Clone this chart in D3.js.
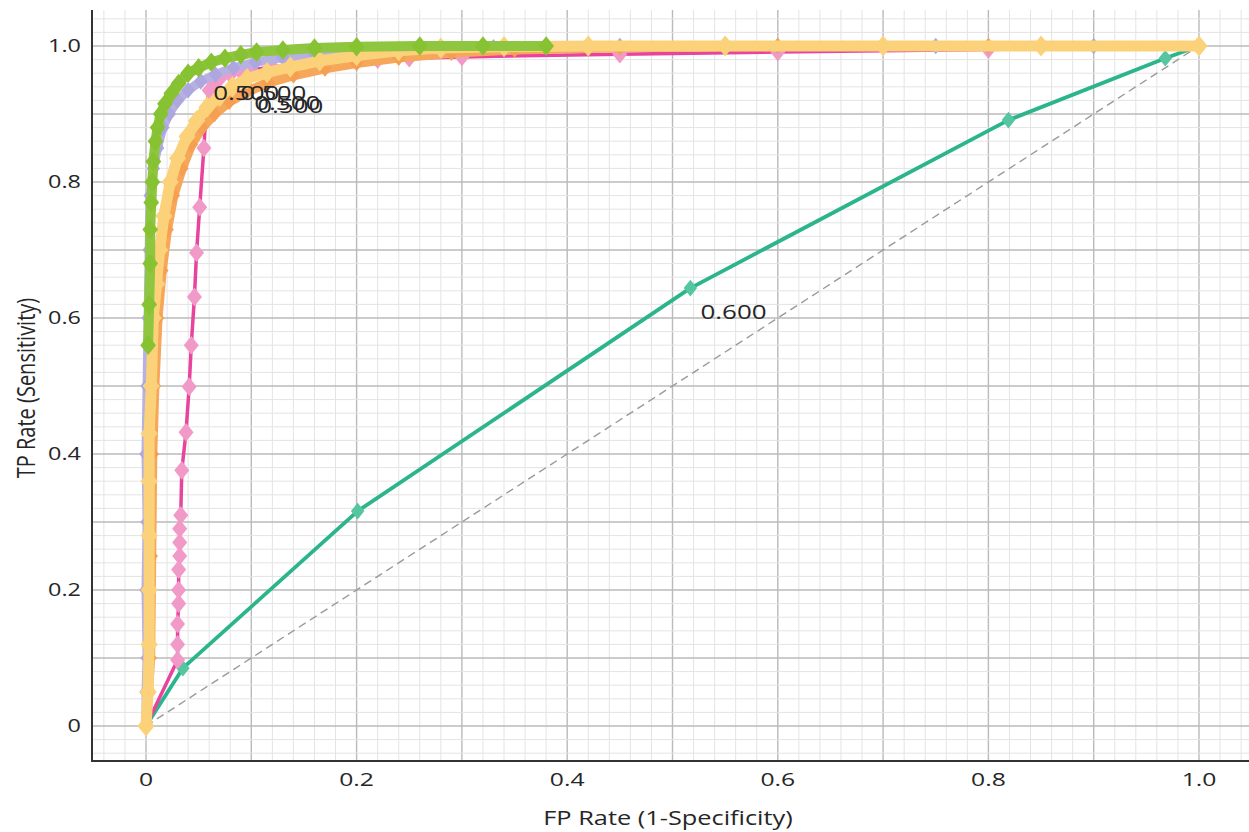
<!DOCTYPE html>
<html>
<head>
<meta charset="utf-8">
<script src="https://cdn.jsdelivr.net/npm/d3@7"></script>
<style>
  body { margin: 0; background: #fff; }
  svg { display: block; font-family: "Open Sans", "Noto Sans", sans-serif; }
</style>
</head>
<body>
<div id="chart"></div>
<script>
// ROC curves, values (fpr, tpr)
const tickValues = [0, 0.2, 0.4, 0.6, 0.8, 1.0];
const tickLabels = ["0", "0.2", "0.4", "0.6", "0.8", "1.0"];

const tealFpr = [0, 0.035, 0.201, 0.517, 0.819, 0.968, 1];
const tealTpr = [0, 0.085, 0.316, 0.644, 0.891, 0.982, 1];

const pinkFpr = [0, 0.03, 0.03, 0.03, 0.031, 0.031, 0.031, 0.032, 0.032, 0.032, 0.033, 0.034, 0.038, 0.041, 0.043, 0.046, 0.048, 0.051, 0.055, 0.057, 0.06, 0.065, 0.07, 0.08, 0.09, 0.1, 0.12, 0.14, 0.16, 0.18, 0.2, 0.22, 0.25, 0.3, 0.45, 0.6, 0.8, 1];
const pinkTpr = [0, 0.097, 0.12, 0.15, 0.18, 0.2, 0.23, 0.25, 0.27, 0.29, 0.31, 0.376, 0.432, 0.499, 0.56, 0.631, 0.696, 0.763, 0.85, 0.905, 0.935, 0.945, 0.952, 0.958, 0.962, 0.965, 0.969, 0.972, 0.975, 0.977, 0.979, 0.98, 0.982, 0.984, 0.988, 0.991, 0.995, 1];

const lavenderFpr = [0, 0.0, 0.001, 0.0, 0.001, 0.0, 0.001, 0.002, 0.003, 0.004, 0.007, 0.011, 0.016, 0.022, 0.03, 0.04, 0.052, 0.066, 0.083, 0.104, 0.13, 0.16, 0.2, 0.26, 0.33, 0.45, 0.6, 0.75, 0.9, 1];
const lavenderTpr = [0, 0.05, 0.1, 0.2, 0.3, 0.4, 0.5, 0.6, 0.7, 0.78, 0.82, 0.85, 0.88, 0.9, 0.92, 0.935, 0.948, 0.958, 0.968, 0.976, 0.983, 0.988, 0.993, 0.996, 0.998, 1, 1, 1, 1, 1];

const orangeFpr = [0, 0.004, 0.005, 0.006, 0.008, 0.011, 0.015, 0.02, 0.026, 0.034, 0.043, 0.053, 0.065, 0.079, 0.096, 0.116, 0.14, 0.17, 0.2, 0.24, 0.29, 0.35, 0.45, 0.6, 0.8, 1];
const orangeTpr = [0, 0.1, 0.25, 0.4, 0.5, 0.6, 0.67, 0.73, 0.78, 0.82, 0.855, 0.88, 0.9, 0.918, 0.933, 0.946, 0.957, 0.967, 0.975, 0.983, 0.99, 0.995, 0.998, 1, 1, 1];

const yellowFpr = [0, 0.002, 0.003, 0.003, 0.003, 0.003, 0.003, 0.005, 0.007, 0.01, 0.013, 0.017, 0.023, 0.03, 0.039, 0.048, 0.058, 0.07, 0.082, 0.096, 0.115, 0.137, 0.165, 0.2, 0.24, 0.28, 0.34, 0.42, 0.55, 0.7, 0.85, 1];
const yellowTpr = [0, 0.05, 0.12, 0.2, 0.28, 0.36, 0.43, 0.5, 0.6, 0.65, 0.7, 0.75, 0.8, 0.835, 0.867, 0.89, 0.91, 0.926, 0.94, 0.952, 0.961, 0.969, 0.978, 0.986, 0.993, 0.997, 0.999, 1, 1, 1, 1, 1];

const greenFpr = [0.002, 0.003, 0.004, 0.004, 0.005, 0.006, 0.007, 0.009, 0.011, 0.014, 0.018, 0.024, 0.031, 0.04, 0.05, 0.062, 0.075, 0.09, 0.105, 0.13, 0.16, 0.2, 0.26, 0.32, 0.38];
const greenTpr = [0.56, 0.62, 0.68, 0.73, 0.77, 0.8, 0.83, 0.86, 0.88, 0.9, 0.915, 0.93, 0.945, 0.96, 0.968, 0.976, 0.982, 0.987, 0.991, 0.994, 0.997, 0.999, 1, 1, 1];

// threshold labels
const labelFpr = [0.06, 0.06, 0.06, 0.06, 0.517];
const labelTpr = [0.935, 0.935, 0.935, 0.935, 0.644];
const labelText = ["0.500", "0.500", "0.500", "0.500", "0.600"];

const width = 1249, height = 832;
const plot = { left: 92, top: 10, right: 1249, bottom: 761 };
const stretch = 1.3; // the picture's text is wider than it is tall

const x = d3.scaleLinear().domain([0, 1]).range([146, 1199]);
const y = d3.scaleLinear().domain([0, 1]).range([726, 46]);

const svg = d3.select("#chart").append("svg")
  .attr("width", width)
  .attr("height", height);

svg.append("clipPath").attr("id", "clip")
  .append("rect")
  .attr("x", plot.left).attr("y", plot.top)
  .attr("width", plot.right - plot.left).attr("height", plot.bottom - plot.top);

// grid: minor every 0.02, darker every 0.1
const gridSteps = d3.range(-3, 54);
const grid = svg.append("g").attr("clip-path", "url(#clip)");
grid.selectAll("line.vx")
  .data(gridSteps)
  .enter().append("line")
  .attr("x1", d => x(d / 50)).attr("x2", d => x(d / 50))
  .attr("y1", plot.top).attr("y2", plot.bottom)
  .attr("stroke", d => d % 5 === 0 ? "#bababa" : "#e4e4e4")
  .attr("stroke-width", d => d % 5 === 0 ? 1.4 : 1);
grid.selectAll("line.hy")
  .data(gridSteps)
  .enter().append("line")
  .attr("y1", d => y(d / 50)).attr("y2", d => y(d / 50))
  .attr("x1", plot.left).attr("x2", plot.right)
  .attr("stroke", d => d % 5 === 0 ? "#bababa" : "#e4e4e4")
  .attr("stroke-width", d => d % 5 === 0 ? 1.4 : 1);

const marks = svg.append("g").attr("clip-path", "url(#clip)");

// diagonal reference
marks.append("line")
  .attr("x1", x(0)).attr("y1", y(0))
  .attr("x2", x(1)).attr("y2", y(1))
  .attr("stroke", "#9a9a9a")
  .attr("stroke-width", 1.4)
  .attr("stroke-dasharray", "8,5");

const line = d3.line().x(d => x(d[0])).y(d => y(d[1]));

function drawCurve(fpr, tpr, lineColor, lineWidth, markColor, markSize) {
  const pts = fpr.map((f, i) => [f, tpr[i]]);
  marks.append("path")
    .datum(pts)
    .attr("d", line)
    .attr("fill", "none")
    .attr("stroke", lineColor)
    .attr("stroke-width", lineWidth)
    .attr("stroke-linejoin", "round")
    .attr("stroke-linecap", "round");
  marks.append("g").selectAll("path")
    .data(pts)
    .enter().append("path")
    .attr("d", d3.symbol().type(d3.symbolDiamond).size(markSize))
    .attr("transform", d => "translate(" + x(d[0]) + "," + y(d[1]) + ") scale(1.4,1)")
    .attr("fill", markColor);
}

drawCurve(tealFpr, tealTpr, "#2cb58c", 3.8, "#55c69f", 80);
drawCurve(pinkFpr, pinkTpr, "#e8449e", 3.5, "#f19ac8", 100);
drawCurve(lavenderFpr, lavenderTpr, "#b7b1e3", 9, "#aea7df", 80);
drawCurve(orangeFpr, orangeTpr, "#f6a75a", 10, "#f59f52", 80);
drawCurve(yellowFpr, yellowTpr, "#fbd27a", 11, "#fbd27a", 130);
drawCurve(greenFpr, greenTpr, "#8ec63f", 10, "#86c232", 110);

function stretchedText(g, tx, ty, anchor, size, str) {
  g.append("text")
    .attr("transform", "translate(" + tx + "," + ty + ") scale(" + stretch + ",1)")
    .attr("text-anchor", anchor)
    .attr("font-size", size)
    .attr("fill", "#262626")
    .text(str);
}

// threshold labels
const labelOffsets = [[4, 10], [31, 10], [45, 20], [48, 23], [10, 31]];
const labels = svg.append("g");
labelText.forEach((t, i) => {
  stretchedText(labels, x(labelFpr[i]) + labelOffsets[i][0], y(labelTpr[i]) + labelOffsets[i][1], "start", 20, t);
});

// axes frame
svg.append("line")
  .attr("x1", plot.left).attr("x2", plot.left)
  .attr("y1", plot.top).attr("y2", plot.bottom + 1)
  .attr("stroke", "#333").attr("stroke-width", 2);
svg.append("line")
  .attr("x1", plot.left).attr("x2", plot.right)
  .attr("y1", plot.bottom).attr("y2", plot.bottom)
  .attr("stroke", "#333").attr("stroke-width", 2);

// tick labels
const ticks = svg.append("g");
tickValues.forEach((v, i) => {
  stretchedText(ticks, x(v), 786, "middle", 19, tickLabels[i]);
  stretchedText(ticks, 81, y(v) + 6, "end", 18, tickLabels[i]);
});

// axis titles
stretchedText(svg, 668, 825, "middle", 19.5, "FP Rate (1-Specificity)");

svg.append("text")
  .attr("transform", "translate(35,388) scale(" + stretch + ",1) rotate(-90)")
  .attr("text-anchor", "middle")
  .attr("font-size", 20)
  .attr("fill", "#262626")
  .text("TP Rate (Sensitivity)");
</script>
</body>
</html>
